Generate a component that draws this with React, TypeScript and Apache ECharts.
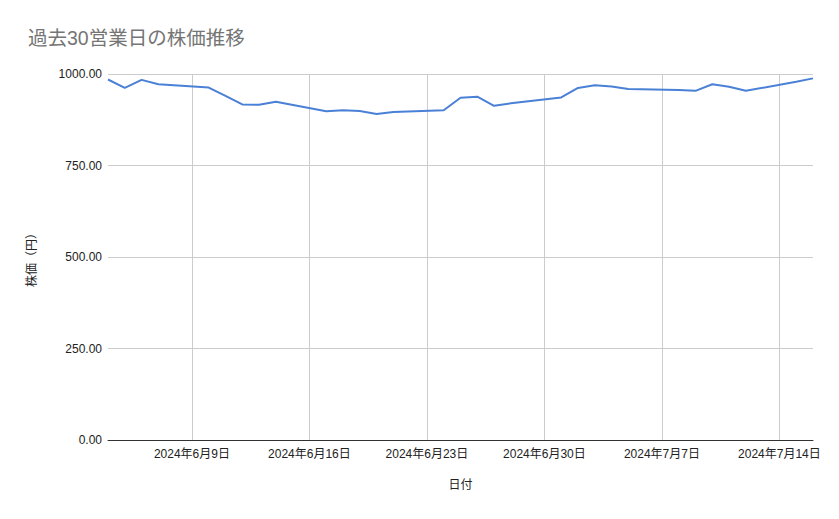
import { useEffect, useRef } from 'react';
import * as echarts from 'echarts';

// business days (yyyy-mm-dd) and closing prices
const dates = [
  '2024-06-04', '2024-06-05', '2024-06-06', '2024-06-07',
  '2024-06-10', '2024-06-11', '2024-06-12', '2024-06-13', '2024-06-14',
  '2024-06-17', '2024-06-18', '2024-06-19', '2024-06-20', '2024-06-21',
  '2024-06-24', '2024-06-25', '2024-06-26', '2024-06-27', '2024-06-28',
  '2024-07-01', '2024-07-02', '2024-07-03', '2024-07-04', '2024-07-05',
  '2024-07-08', '2024-07-09', '2024-07-10', '2024-07-11', '2024-07-12',
  '2024-07-15', '2024-07-16',
];
const prices = [
  985, 962, 984, 972,
  963, 940, 917, 916, 924,
  898, 901, 899, 891, 896,
  901, 935, 938, 913, 920,
  936, 962, 969, 966, 959,
  956, 954, 972, 965, 954,
  979, 988,
];
const tickDates = ['2024-06-09', '2024-06-16', '2024-06-23', '2024-06-30', '2024-07-07', '2024-07-14'];
const axisStart = '2024-06-04';
const axisEnd = '2024-07-16';

const title = '過去30営業日の株価推移';
const xName = '日付';
const yName = '株価（円）';

const toTs = (s: string) => {
  const [y, m, d] = s.split('-').map(Number);
  return new Date(y, m - 1, d).getTime();
};

const FONT = '"Liberation Sans", Arial, "Noto Sans CJK JP", sans-serif';

export default function App() {
  const chartRef = useRef<HTMLDivElement>(null);

  useEffect(() => {
    if (!chartRef.current) return;
    document.body.style.margin = '0';

    const chart = echarts.init(chartRef.current, null, { renderer: 'svg' });
    const ticks = tickDates.map(toTs);

    chart.setOption({
      animation: false,
      backgroundColor: '#ffffff',
      textStyle: { fontFamily: FONT },
      title: {
        text: title,
        left: 23,
        top: 23,
        textStyle: { color: '#757575', fontSize: 19.5, fontWeight: 'normal', fontFamily: FONT },
      },
      grid: {
        left: 108,
        right: 26,
        top: 74,
        bottom: 79,
        containLabel: false,
        outerBoundsMode: 'none',
      },
      xAxis: {
        type: 'value',
        min: toTs(axisStart),
        max: toTs(axisEnd),
        scale: true,
        name: xName,
        nameLocation: 'middle',
        nameGap: 39,
        nameTextStyle: { color: '#222', fontSize: 12 },
        axisLine: { show: true, lineStyle: { color: '#333', width: 1 } },
        axisTick: { show: false, customValues: ticks },
        axisLabel: {
          customValues: ticks,
          color: '#222',
          fontSize: 12,
          margin: 8,
          hideOverlap: false,
          formatter: (v: number) => {
            const d = new Date(v);
            return `${d.getFullYear()}年${d.getMonth() + 1}月${d.getDate()}日`;
          },
        },
        splitLine: { show: true, lineStyle: { color: '#cccccc', width: 1 } },
      },
      yAxis: {
        type: 'value',
        min: 0,
        max: 1000,
        interval: 250,
        name: yName,
        nameLocation: 'middle',
        nameGap: 70,
        nameRotate: 90,
        nameTextStyle: { color: '#222', fontSize: 12 },
        axisLine: { show: false },
        axisTick: { show: false },
        axisLabel: {
          color: '#222',
          fontSize: 12,
          margin: 6,
          formatter: (v: number) => v.toFixed(2),
        },
        splitLine: { show: true, lineStyle: { color: '#cccccc', width: 1 } },
      },
      series: [
        {
          name: '株価',
          type: 'line',
          data: dates.map((d, i) => [toTs(d), prices[i]]),
          showSymbol: false,
          smooth: false,
          itemStyle: { color: '#4a80d6' },
          lineStyle: { color: '#4a80d6', width: 2 },
        },
      ],
    });

    return () => {
      chart.dispose();
    };
  }, []);

  return <div ref={chartRef} style={{ width: '839px', height: '519px' }} />;
}
